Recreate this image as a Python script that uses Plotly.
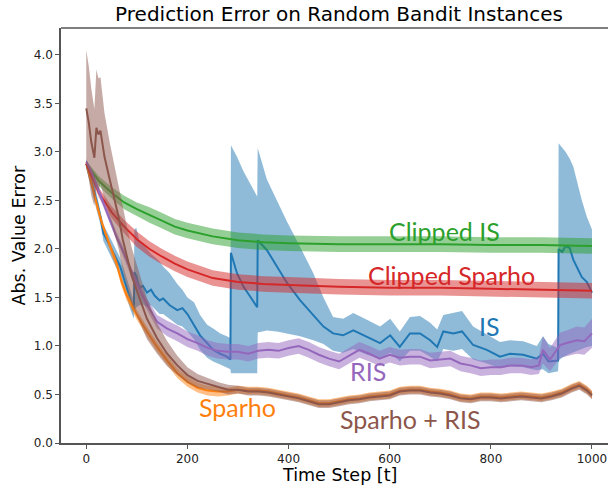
import plotly.graph_objects as go

# ---------------- data ----------------
title = "Prediction Error on Random Bandit Instances"
x_label = "Time Step [t]"
y_label = "Abs. Value Error"
x_ticks = [0, 200, 400, 600, 800, 1000]
y_ticks = [0.0, 0.5, 1.0, 1.5, 2.0, 2.5, 3.0, 3.5, 4.0]

# IS (blue): mean, lower, upper
is_t = [0, 10, 20, 28, 34, 45, 51, 60, 67, 77, 87, 94, 95, 99, 105, 112, 120, 128, 135, 145,
        152, 165, 180, 190, 200, 213, 225, 239, 251, 265, 278, 285, 286, 298, 311, 324, 338,
        339, 357, 377, 397, 423, 449, 469, 488, 508, 528, 555, 581, 601, 620, 640, 660, 680,
        694, 706, 726, 743, 765, 792, 818, 838, 864, 891, 903, 914, 933, 934, 941, 948, 956,
        963, 980, 990, 1000]
is_mean = [2.88, 2.70, 2.50, 2.33, 2.16, 2.05, 1.99, 1.90, 1.82, 1.65, 1.47, 1.36, 1.76, 1.72,
           1.60, 1.62, 1.55, 1.58, 1.52, 1.47, 1.49, 1.42, 1.37, 1.39, 1.33, 1.22, 1.11, 1.03,
           0.96, 0.92, 0.89, 0.86, 1.96, 1.75, 1.61, 1.51, 1.40, 2.09, 1.99, 1.82, 1.65, 1.47,
           1.32, 1.20, 1.13, 1.11, 1.16, 1.09, 1.03, 1.11, 0.99, 1.13, 1.13, 1.06, 0.99, 1.15,
           1.13, 1.15, 1.01, 0.96, 0.89, 0.92, 0.91, 0.87, 0.92, 0.84, 0.85, 2.00, 1.97, 2.03,
           2.01, 1.89, 1.71, 1.66, 1.55]
is_low = [2.83, 2.62, 2.42, 2.25, 2.08, 1.96, 1.90, 1.80, 1.72, 1.55, 1.38, 1.28, 1.35, 1.40,
          1.42, 1.43, 1.40, 1.42, 1.38, 1.33, 1.33, 1.28, 1.22, 1.20, 1.15, 1.07, 0.96, 0.88,
          0.84, 0.81, 0.78, 0.76, 0.72, 0.72, 0.72, 0.72, 0.72, 1.14, 1.16, 1.15, 1.13, 1.10,
          1.06, 1.02, 0.95, 0.93, 0.97, 0.91, 0.87, 0.93, 0.84, 0.95, 0.95, 0.89, 0.84, 0.97,
          0.95, 0.97, 0.86, 0.82, 0.77, 0.79, 0.78, 0.75, 0.76, 0.72, 0.74, 0.85, 0.88, 0.90,
          0.92, 0.94, 0.97, 0.99, 1.00]
is_high = [2.93, 2.77, 2.58, 2.41, 2.25, 2.14, 2.08, 1.99, 1.91, 1.75, 1.57, 1.46, 2.20, 2.22,
           2.08, 2.05, 2.00, 1.95, 1.92, 1.87, 1.82, 1.75, 1.64, 1.58, 1.50, 1.45, 1.32, 1.22,
           1.18, 1.13, 1.10, 1.08, 3.07, 2.95, 2.80, 2.68, 2.54, 3.04, 2.72, 2.50, 2.28, 2.02,
           1.75, 1.50, 1.30, 1.28, 1.34, 1.27, 1.20, 1.28, 1.15, 1.30, 1.31, 1.24, 1.17, 1.32,
           1.34, 1.36, 1.20, 1.12, 1.04, 1.06, 1.05, 1.00, 1.10, 1.02, 0.98, 3.09, 3.05, 3.00,
           2.93, 2.85, 2.50, 2.33, 2.20]

# Sparho (orange)
sp_t = [0, 10, 20, 30, 40, 50, 60, 70, 80, 90, 100, 120, 140, 160, 180, 200, 220, 240, 260,
        280, 300, 320, 340, 360, 380, 400, 420, 440, 460, 480, 500, 520, 540, 560, 580, 600,
        620, 640, 660, 680, 700, 720, 740, 760, 780, 800, 820, 840, 860, 880, 900, 920, 940,
        960, 975, 990, 1000]
sp_mean = [2.88, 2.68, 2.45, 2.28, 2.13, 1.98, 1.85, 1.66, 1.52, 1.42, 1.32, 1.15, 0.99, 0.85,
           0.72, 0.63, 0.57, 0.54, 0.53, 0.53, 0.55, 0.54, 0.54, 0.53, 0.51, 0.49, 0.47, 0.44,
           0.41, 0.41, 0.43, 0.45, 0.46, 0.48, 0.49, 0.50, 0.54, 0.55, 0.55, 0.53, 0.52, 0.50,
           0.47, 0.46, 0.48, 0.48, 0.47, 0.48, 0.49, 0.48, 0.47, 0.49, 0.52, 0.57, 0.60, 0.55,
           0.50]
sp_hw = [0.02, 0.03, 0.04, 0.04, 0.04, 0.05, 0.05, 0.05, 0.05, 0.05, 0.05, 0.05, 0.05, 0.05,
         0.05, 0.05, 0.05, 0.05, 0.05, 0.04, 0.04, 0.04, 0.04, 0.04, 0.04, 0.04, 0.04, 0.04,
         0.04, 0.04, 0.04, 0.04, 0.04, 0.04, 0.04, 0.04, 0.04, 0.04, 0.04, 0.04, 0.04, 0.04,
         0.04, 0.04, 0.04, 0.04, 0.04, 0.04, 0.04, 0.04, 0.04, 0.04, 0.04, 0.04, 0.04, 0.04,
         0.04]

# Clipped IS (green)
cis_t = [0, 25, 50, 75, 100, 125, 150, 175, 200, 250, 300, 350, 400, 500, 600, 700, 800, 900, 1000]
cis_mean = [2.88, 2.70, 2.58, 2.48, 2.41, 2.35, 2.29, 2.23, 2.19, 2.13, 2.09, 2.07, 2.06, 2.05,
            2.05, 2.05, 2.04, 2.04, 2.03]
cis_hw = [0.03, 0.05, 0.06, 0.07, 0.07, 0.08, 0.08, 0.08, 0.08, 0.08, 0.08, 0.08, 0.08, 0.08,
          0.08, 0.08, 0.08, 0.08, 0.08]

# Clipped Sparho (red)
csp_t = [0, 25, 50, 75, 100, 125, 150, 175, 200, 250, 300, 350, 400, 500, 600, 700, 800, 900, 1000]
csp_mean = [2.88, 2.58, 2.38, 2.23, 2.10, 2.00, 1.92, 1.85, 1.79, 1.70, 1.66, 1.64, 1.63, 1.61,
            1.60, 1.60, 1.59, 1.58, 1.57]
csp_hw = [0.03, 0.05, 0.06, 0.07, 0.08, 0.08, 0.08, 0.08, 0.08, 0.08, 0.08, 0.08, 0.08, 0.08,
          0.08, 0.08, 0.08, 0.08, 0.08]

# RIS (purple)
ris_t = [0, 10, 20, 30, 40, 50, 60, 70, 80, 90, 100, 120, 140, 160, 180, 200, 220, 240, 260,
         280, 300, 320, 340, 360, 380, 400, 420, 440, 460, 480, 500, 520, 540, 560, 580, 600,
         620, 640, 660, 680, 700, 720, 740, 760, 780, 800, 820, 840, 860, 880, 895, 903, 917,
         937, 950, 970, 985, 1000]
ris_mean = [2.90, 2.80, 2.66, 2.52, 2.38, 2.25, 2.12, 2.01, 1.88, 1.75, 1.64, 1.43, 1.25, 1.18,
            1.13, 1.07, 1.03, 0.98, 0.95, 0.94, 0.94, 0.92, 0.95, 0.96, 0.95, 0.98, 1.00, 0.96,
            0.91, 0.87, 0.84, 0.90, 0.96, 0.92, 0.87, 0.91, 0.88, 0.89, 0.89, 0.85, 0.86, 0.87,
            0.82, 0.80, 0.77, 0.78, 0.78, 0.80, 0.80, 0.78, 0.80, 0.96, 0.86, 1.01, 1.03, 1.06,
            1.05, 1.13]
ris_hw = [0.02, 0.03, 0.04, 0.04, 0.04, 0.05, 0.05, 0.05, 0.05, 0.05, 0.06, 0.06, 0.07, 0.08,
          0.08, 0.08, 0.08, 0.08, 0.08, 0.08, 0.08, 0.08, 0.08, 0.08, 0.08, 0.08, 0.08, 0.08,
          0.08, 0.08, 0.08, 0.08, 0.08, 0.08, 0.08, 0.08, 0.08, 0.08, 0.08, 0.08, 0.08, 0.08,
          0.08, 0.08, 0.08, 0.08, 0.08, 0.08, 0.08, 0.08, 0.09, 0.14, 0.12, 0.13, 0.13, 0.14,
          0.14, 0.15]

# Sparho + RIS (brown)
spr_t = [0, 5, 10, 16, 20, 24, 28, 36, 47, 55, 64, 72, 80, 90, 100, 120, 140, 160, 180, 200,
         220, 240, 260, 280, 300, 320, 340, 360, 380, 400, 420, 440, 460, 480, 500, 520, 540,
         560, 580, 600, 620, 640, 660, 680, 700, 720, 740, 760, 780, 800, 820, 840, 860, 880,
         900, 920, 940, 960, 975, 990, 1000]
spr_mean = [3.45, 3.30, 3.10, 2.94, 3.25, 3.18, 3.22, 2.95, 2.70, 2.52, 2.33, 2.10, 1.93, 1.72,
            1.57, 1.28, 1.08, 0.92, 0.80, 0.70, 0.64, 0.61, 0.58, 0.55, 0.55, 0.53, 0.53, 0.52,
            0.50, 0.48, 0.46, 0.43, 0.40, 0.40, 0.42, 0.44, 0.45, 0.47, 0.48, 0.49, 0.53, 0.54,
            0.54, 0.52, 0.51, 0.49, 0.46, 0.45, 0.47, 0.47, 0.46, 0.47, 0.48, 0.47, 0.46, 0.48,
            0.51, 0.56, 0.59, 0.54, 0.49]
spr_hw = [0.60, 0.58, 0.55, 0.50, 0.60, 0.58, 0.55, 0.45, 0.38, 0.35, 0.33, 0.32, 0.31, 0.29,
          0.26, 0.21, 0.16, 0.13, 0.10, 0.08, 0.07, 0.06, 0.05, 0.05, 0.04, 0.04, 0.04, 0.04,
          0.04, 0.04, 0.04, 0.04, 0.04, 0.04, 0.04, 0.04, 0.04, 0.04, 0.04, 0.04, 0.04, 0.04,
          0.04, 0.04, 0.04, 0.04, 0.04, 0.04, 0.04, 0.04, 0.04, 0.04, 0.04, 0.04, 0.04, 0.04,
          0.04, 0.04, 0.04, 0.04, 0.04]

# label text and anchor positions (data units)
labels = ["Clipped IS", "Clipped Sparho", "IS", "RIS", "Sparho", "Sparho + RIS"]
label_t = [709, 723, 798, 557, 300, 640]
label_v = [2.19, 1.73, 1.21, 0.74, 0.37, 0.25]
label_colors = ["#2ca02c", "#d62728", "#1f77b4", "#9467bd", "#ff7f0e", "#8c564b"]

# ---------------- figure ----------------
fig = go.Figure()


def rgba(hexc, a):
    h = hexc.lstrip("#")
    r, g, b = int(h[0:2], 16), int(h[2:4], 16), int(h[4:6], 16)
    return f"rgba({r},{g},{b},{a})"


def add_series(t, mean, low, high, color):
    fig.add_trace(go.Scatter(x=list(t), y=list(mean), mode="lines",
                             line=dict(color=color, width=2), hoverinfo="skip",
                             showlegend=False))
    fig.add_trace(go.Scatter(x=list(t) + list(t)[::-1], y=list(high) + list(low)[::-1],
                             mode="lines", fill="toself", fillcolor=rgba(color, 0.5),
                             line=dict(width=0, color=rgba(color, 0)), hoverinfo="skip",
                             showlegend=False))


def sym(mean, hw):
    return [m - h for m, h in zip(mean, hw)], [m + h for m, h in zip(mean, hw)]


add_series(is_t, is_mean, is_low, is_high, "#1f77b4")
lo, hi = sym(sp_mean, sp_hw)
add_series(sp_t, sp_mean, lo, hi, "#ff7f0e")
lo, hi = sym(cis_mean, cis_hw)
add_series(cis_t, cis_mean, lo, hi, "#2ca02c")
lo, hi = sym(csp_mean, csp_hw)
add_series(csp_t, csp_mean, lo, hi, "#d62728")
lo, hi = sym(ris_mean, ris_hw)
add_series(ris_t, ris_mean, lo, hi, "#9467bd")
lo, hi = sym(spr_mean, spr_hw)
add_series(spr_t, spr_mean, lo, hi, "#8c564b")

for txt, tx, ty, c in zip(labels, label_t, label_v, label_colors):
    fig.add_annotation(x=tx, y=ty, text=txt, showarrow=False, xanchor="center",
                       yanchor="middle", font=dict(family="Lato", size=25, color=c))

# axis titles placed by pixel position, converted to paper coords
pa_l, pa_r, pa_t, pa_b = 61, 608, 28, 443
fig.add_annotation(x=(339 - pa_l) / (pa_r - pa_l), y=(pa_b - 475) / (pa_b - pa_t),
                   xref="paper", yref="paper", text=x_label,
                   showarrow=False, xanchor="center", yanchor="middle",
                   font=dict(family="DejaVu Sans", size=17.5, color="#000"))
fig.add_annotation(x=(18 - pa_l) / (pa_r - pa_l), y=(pa_b - 235.5) / (pa_b - pa_t),
                   xref="paper", yref="paper", text=y_label, textangle=-90,
                   showarrow=False, xanchor="center", yanchor="middle",
                   font=dict(family="DejaVu Sans", size=17.5, color="#000"))

# top spine of the axes box
fig.add_shape(type="line", xref="paper", yref="paper", x0=0, x1=1, y0=1, y1=1,
              line=dict(color="#555", width=1.5))

fig.update_layout(
    width=608, height=486,
    margin=dict(l=pa_l, r=0, t=pa_t, b=486 - pa_b, autoexpand=False),
    paper_bgcolor="white", plot_bgcolor="white",
    title=dict(text=title, x=339 / 608, xanchor="center", y=1 - 14 / 486, yanchor="middle",
               xref="container", yref="container", automargin=False,
               font=dict(family="DejaVu Sans", size=20, color="#000")),
    xaxis=dict(range=[-50, 1031.7], tickvals=x_ticks, ticktext=[str(v) for v in x_ticks],
               showgrid=False, zeroline=False, showline=True, linecolor="#555", linewidth=1.5,
               ticks="outside", ticklen=4, tickcolor="#555", automargin=False,
               tickfont=dict(family="DejaVu Sans", size=12, color="#222")),
    yaxis=dict(range=[0, 4.278], tickvals=y_ticks, ticktext=[f"{v:.1f}" for v in y_ticks],
               showgrid=False, zeroline=False, showline=True, linecolor="#555", linewidth=1.5,
               ticks="outside", ticklen=4, tickcolor="#555", automargin=False,
               tickfont=dict(family="DejaVu Sans", size=12, color="#222")),
)

fig.write_html("out.html", config={"displayModeBar": False},
               post_script="document.body.style.margin='0';document.body.style.padding='0';")
